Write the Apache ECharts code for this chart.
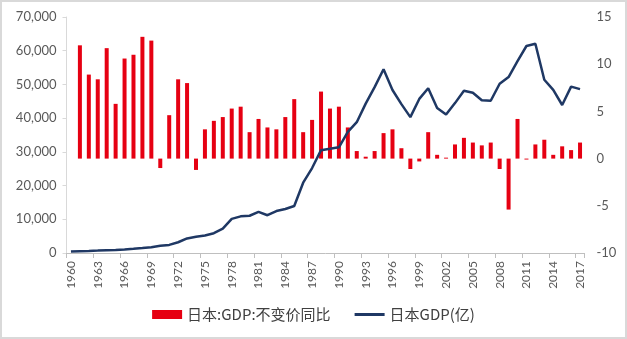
<!DOCTYPE html>
<html><head><meta charset="utf-8">
<script src="https://cdn.jsdelivr.net/npm/echarts@6/dist/echarts.min.js"></script>
<style>html,body{margin:0;padding:0;background:#fff}#c{width:627px;height:339px}</style>
</head><body><div id="c"></div>
<script>
const years = [];
for (let y = 1960; y <= 2017; y++) years.push(String(y));
const growth = [null,
 12.0, 8.9, 8.4, 11.7, 5.8, 10.6, 11.0, 12.9, 12.5, -1.0,
 4.6, 8.4, 8.0, -1.2, 3.1, 4.0, 4.4, 5.3, 5.5, 2.8,
 4.2, 3.3, 3.1, 4.4, 6.3, 2.8, 4.1, 7.1, 5.3, 5.5,
 3.3, 0.8, 0.2, 0.8, 2.7, 3.1, 1.1, -1.1, -0.3, 2.8,
 0.4, 0.1, 1.5, 2.2, 1.7, 1.4, 1.7, -1.1, -5.4, 4.2,
 -0.1, 1.5, 2.0, 0.4, 1.3, 0.9, 1.7];
const gdp = [443, 536, 609, 707, 817, 910, 1057, 1237, 1468, 1721,
 2127, 2403, 3185, 4327, 4799, 5217, 5869, 7214, 10130, 10870,
 11050, 12180, 11200, 12440, 13050, 13950, 20850, 25200, 30500, 30900,
 31350, 35900, 38800, 44300, 49200, 54490, 48350, 44150, 40300, 45700,
 48850, 43000, 41050, 44460, 48150, 47550, 45300, 45150, 50200, 52200,
 56900, 61400, 62050, 51400, 48400, 43900, 49350, 48600];
const leftTicks = [0, 70000, 10000];
const rightTicks = [-10, 15, 5];

const chart = echarts.init(document.getElementById('c'));
const txt = '#595959';
chart.setOption({
  animation: false,
  graphic: [{type:'rect', shape:{x:1,y:1,width:625,height:337}, style:{fill:null, stroke:'#d9d9d9', lineWidth:2}, silent:true}],
  grid: {left: 66.5, right: 42.5, top: 17, bottom: 86},
  legend: {
    bottom: 12, left: 'center', itemWidth: 30, itemHeight: 9, itemGap: 24,
    symbolKeepAspect: true,
    textStyle: {fontFamily: 'Noto Sans CJK SC', fontSize: 15, color: '#404040'},
    data: [{name:'日本:GDP:不变价同比', icon:'rect'},
           {name:'日本GDP(亿)', icon:'path://M0,0 H30 V3 H0 Z'}]
  },
  xAxis: {
    type: 'category', data: years, boundaryGap: true,
    axisLine: {lineStyle: {color: '#bfbfbf'}},
    axisTick: {show: true, interval: 2, length: 5, lineStyle: {color: '#bfbfbf'}},
    axisLabel: {interval: 2, rotate: 90, fontFamily: 'Lato', fontSize: 12, color: txt, margin: 8}
  },
  yAxis: [{
    type: 'value', min: leftTicks[0], max: leftTicks[1], interval: leftTicks[2],
    splitLine: {show: false},
    axisLine: {show: true, lineStyle: {color: '#d9d9d9'}},
    axisTick: {show: true, length: 4, lineStyle: {color: '#d9d9d9'}},
    axisLabel: {fontFamily: 'Lato', fontSize: 13, color: txt, margin: 10,
      formatter: v => v.toLocaleString('en-US')}
  }, {
    type: 'value', min: rightTicks[0], max: rightTicks[1], interval: rightTicks[2],
    splitLine: {show: false},
    axisLine: {show: false}, axisTick: {show: false},
    axisLabel: {fontFamily: 'Lato', fontSize: 13, color: txt, margin: 12}
  }],
  series: [{
    name: '日本:GDP:不变价同比', type: 'bar', yAxisIndex: 1, data: growth,
    barWidth: 4, itemStyle: {color: '#E60012'}
  }, {
    name: '日本GDP(亿)', type: 'line', yAxisIndex: 0, data: gdp,
    symbol: 'none', lineStyle: {color: '#1F3864', width: 2.5}, itemStyle: {color: '#1F3864'}
  }]
});
</script></body></html>
